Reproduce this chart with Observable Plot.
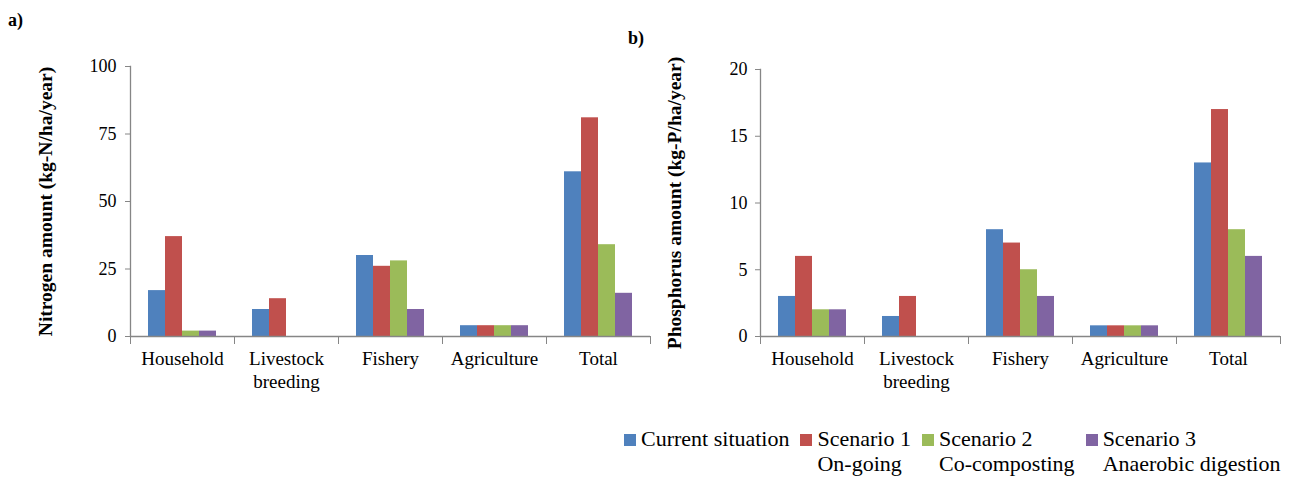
<!DOCTYPE html>
<html><head><meta charset="utf-8">
<script src="https://cdn.jsdelivr.net/npm/d3@7"></script>
<script src="https://cdn.jsdelivr.net/npm/@observablehq/plot@0.6"></script>
<style>
body{margin:0;background:#fff;font-family:"Liberation Serif","Times New Roman",serif;}
#wrap{position:relative;width:1289px;height:477px;overflow:hidden;background:#fff}
.tag{position:absolute;font-weight:bold;font-size:18px;line-height:1}
.chart{position:absolute;top:0}
#legend{position:absolute;left:624px;top:426px;display:flex;gap:11px;font-size:22px;line-height:25px;color:#000}
.item{display:flex;align-items:flex-start}
.sw{width:12px;height:12px;margin-top:8px;margin-right:5px;flex:none}
</style></head><body>
<div id="wrap">
  <div class="tag" style="left:8px;top:11px">a)</div>
  <div class="tag" style="left:628px;top:29px">b)</div>
  <div id="chartA" class="chart" style="left:0"></div>
  <div id="chartB" class="chart" style="left:655px"></div>
  <div id="legend"></div>
</div>
<script>
const categories = ["Household", "Livestock breeding", "Fishery", "Agriculture", "Total"];
const categoryLabels = ["Household", "Livestock\nbreeding", "Fishery", "Agriculture", "Total"];
const series = ["Current situation", "Scenario 1 On-going", "Scenario 2 Co-composting", "Scenario 3 Anaerobic digestion"];
const seriesLine1 = ["Current situation", "Scenario 1", "Scenario 2", "Scenario 3"];
const seriesLine2 = ["", "On-going", "Co-composting", "Anaerobic digestion"];
const seriesColors = ["#4F81BD", "#C0504D", "#9BBB59", "#8064A2"];

// a) Nitrogen (kg-N/ha/year)
const nitrogenCurrent   = [17, 10, 30, 4, 61];
const nitrogenScenario1 = [37, 14, 26, 4, 81];
const nitrogenScenario2 = [2, 0, 28, 4, 34];
const nitrogenScenario3 = [2, 0, 10, 4, 16];
const nitrogenTicks = [0, 25, 50, 75, 100];

// b) Phosphorus (kg-P/ha/year)
const phosphorusCurrent   = [3, 1.5, 8, 0.8, 13];
const phosphorusScenario1 = [6, 3, 7, 0.8, 17];
const phosphorusScenario2 = [2, 0, 5, 0.8, 8];
const phosphorusScenario3 = [2, 0, 3, 0.8, 6];
const phosphorusTicks = [0, 5, 10, 15, 20];

const FONT = '"Liberation Serif", "Times New Roman", serif';
const AXIS = "#868686";

function chart(values, o) {
  const rows = [];
  categories.forEach((c, i) => series.forEach((s, j) => rows.push({category: c, series: s, value: values[j][i]})));
  const height = 400;
  const innerH = height - o.marginTop - o.marginBottom;
  return Plot.plot({
    width: o.width, height,
    marginLeft: o.marginLeft, marginRight: o.marginRight, marginTop: o.marginTop, marginBottom: o.marginBottom,
    style: {fontFamily: FONT, fontSize: "18px", color: "#000", background: "transparent", overflow: "visible"},
    fx: {domain: categories, padding: 0},
    x: {domain: series, paddingInner: 0, paddingOuter: 0.89, axis: null},
    y: {domain: [o.yTicks[0], o.yTicks[o.yTicks.length - 1]]},
    color: {domain: series, range: seriesColors},
    marks: [
      Plot.barY(rows, {fx: "category", x: "series", y: "value", fill: "series"}),
      Plot.ruleY([0], {stroke: AXIS, strokeWidth: 1.3}),
      Plot.frame({anchor: "left", facetAnchor: "left", stroke: AXIS, strokeWidth: 1.3}),
      Plot.frame({anchor: "left", insetTop: innerH, insetBottom: -7, stroke: AXIS}),
      Plot.frame({anchor: "right", facetAnchor: "right", insetTop: innerH, insetBottom: -7, stroke: AXIS}),
      Plot.axisY({ticks: o.yTicks, tickSize: 5, tickPadding: o.tickPadding, stroke: AXIS, label: null, fontSize: 18}),
      Plot.axisY({ticks: [], label: o.label, labelAnchor: "center", labelOffset: o.labelOffset, labelArrow: "none",
        fontWeight: "bold", fontSize: 19.5, dy: o.labelDy}),
      Plot.axisFx({anchor: "bottom", tickSize: 0, tickPadding: 12, label: null, lineHeight: 1.22, fontSize: 19,
        tickFormat: c => categoryLabels[categories.indexOf(c)]})
    ]
  });
}

document.getElementById("chartA").append(chart(
  [nitrogenCurrent, nitrogenScenario1, nitrogenScenario2, nitrogenScenario3],
  {width: 655, marginLeft: 130, marginRight: 5, marginTop: 66, marginBottom: 64, yTicks: nitrogenTicks,
   tickPadding: 9, label: "Nitrogen amount (kg-N/ha/year)", labelOffset: 92, labelDy: -9}));

document.getElementById("chartB").append(chart(
  [phosphorusCurrent, phosphorusScenario1, phosphorusScenario2, phosphorusScenario3],
  {width: 634, marginLeft: 105, marginRight: 9, marginTop: 69, marginBottom: 64, yTicks: phosphorusTicks,
   tickPadding: 8, label: "Phosphorus amount (kg-P/ha/year)", labelOffset: 93, labelDy: 11}));

const legend = document.getElementById("legend");
series.forEach((s, i) => {
  const item = document.createElement("div");
  item.className = "item";
  const sw = document.createElement("div");
  sw.className = "sw";
  sw.style.background = seriesColors[i];
  const txt = document.createElement("div");
  txt.innerHTML = seriesLine1[i] + (seriesLine2[i] ? "<br>" + seriesLine2[i] : "");
  item.append(sw, txt);
  legend.append(item);
});
</script>
</body></html>
